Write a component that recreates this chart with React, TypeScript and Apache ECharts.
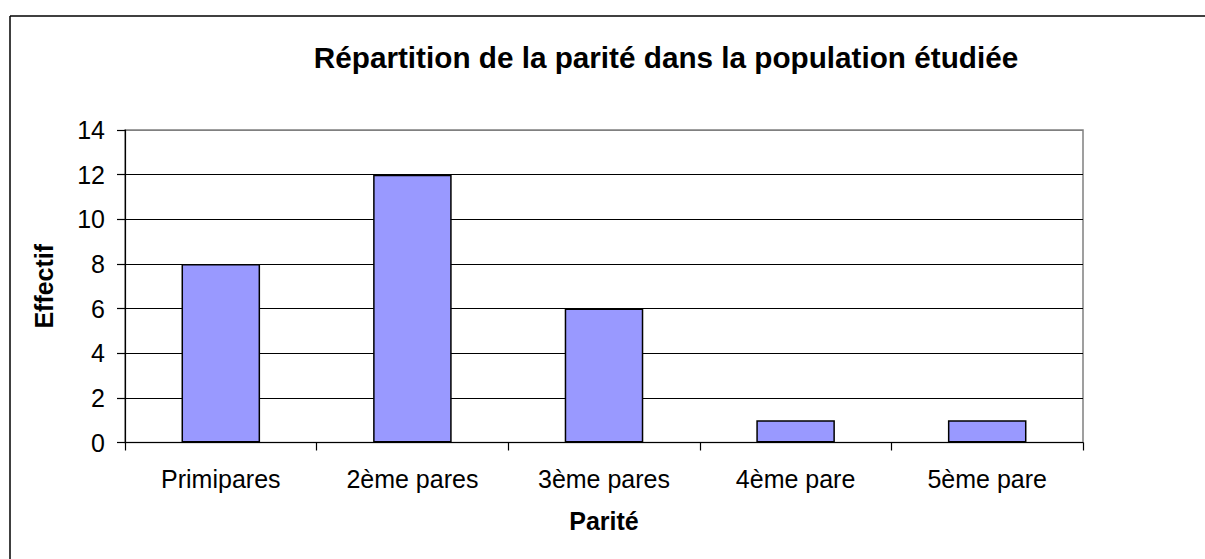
import React, { useEffect, useRef } from "react";
import * as echarts from "echarts";

const categories = ["Primipares", "2ème pares", "3ème pares", "4ème pare", "5ème pare"];
const effectifs = [8, 12, 6, 1, 1];
const titleText = "Répartition de la parité dans la population étudiée";
const yName = "Effectif";
const xName = "Parité";

export default function App() {
  const ref = useRef<HTMLDivElement>(null);
  useEffect(() => {
    if (!ref.current) return;
    const chart = echarts.init(ref.current, null, { renderer: "svg" });
    const font = "'Liberation Sans', Arial, sans-serif";
    chart.setOption({
      animation: false,
      backgroundColor: "#ffffff",
      textStyle: { fontFamily: font },
      title: {
        text: titleText,
        left: 661,
        top: 37,
        textAlign: "center",
        textStyle: { fontFamily: font, fontSize: 29.7, fontWeight: "bold", color: "#000" },
      },
      graphic: [
        {
          type: "line",
          shape: { x1: 10, y1: 16, x2: 1205, y2: 16 },
          style: { stroke: "#000", lineWidth: 1.5 },
          silent: true,
        },
        {
          type: "line",
          shape: { x1: 10, y1: 16, x2: 10, y2: 559 },
          style: { stroke: "#000", lineWidth: 1.5 },
          silent: true,
        },
      ],
      grid: {
        left: 125,
        top: 130,
        right: 122,
        bottom: 116.5,
        show: true,
        borderColor: "#808080",
        borderWidth: 1.5,
        backgroundColor: "transparent",
      },
      xAxis: {
        type: "category",
        data: categories,
        boundaryGap: true,
        name: xName,
        nameLocation: "middle",
        nameGap: 66,
        nameTextStyle: { fontFamily: font, fontSize: 25, fontWeight: "bold", color: "#000" },
        axisLine: { show: true, lineStyle: { color: "#000", width: 1.2 } },
        axisTick: { show: true, length: 8, inside: false, alignWithLabel: false, lineStyle: { color: "#000", width: 1.2 } },
        axisLabel: { fontFamily: font, fontSize: 25, color: "#000", margin: 24, interval: 0 },
        splitLine: { show: false },
      },
      yAxis: {
        type: "value",
        min: 0,
        max: 14,
        interval: 2,
        name: yName,
        nameLocation: "middle",
        nameGap: 69,
        nameRotate: 90,
        nameTextStyle: { fontFamily: font, fontSize: 25, fontWeight: "bold", color: "#000" },
        axisLine: { show: true, lineStyle: { color: "#000", width: 1.2 } },
        axisTick: { show: true, length: 8, inside: false, lineStyle: { color: "#000", width: 1.2 } },
        axisLabel: { fontFamily: font, fontSize: 25, color: "#000", margin: 20 },
        splitLine: {
          show: true,
          lineStyle: {
            color: ["#000", "#000", "#000", "#000", "#000", "#000", "#000", "#808080"],
            width: 1,
          },
        },
      },
      series: [
        {
          type: "bar",
          data: effectifs,
          barWidth: "41%",
          itemStyle: { color: "#9999FF", borderColor: "#000", borderWidth: 1.5 },
        },
      ],
    });
    return () => chart.dispose();
  }, []);
  return (
    <div
      ref={ref}
      style={{ position: "fixed", left: 0, top: 0, width: 1205, height: 559 }}
    />
  );
}
